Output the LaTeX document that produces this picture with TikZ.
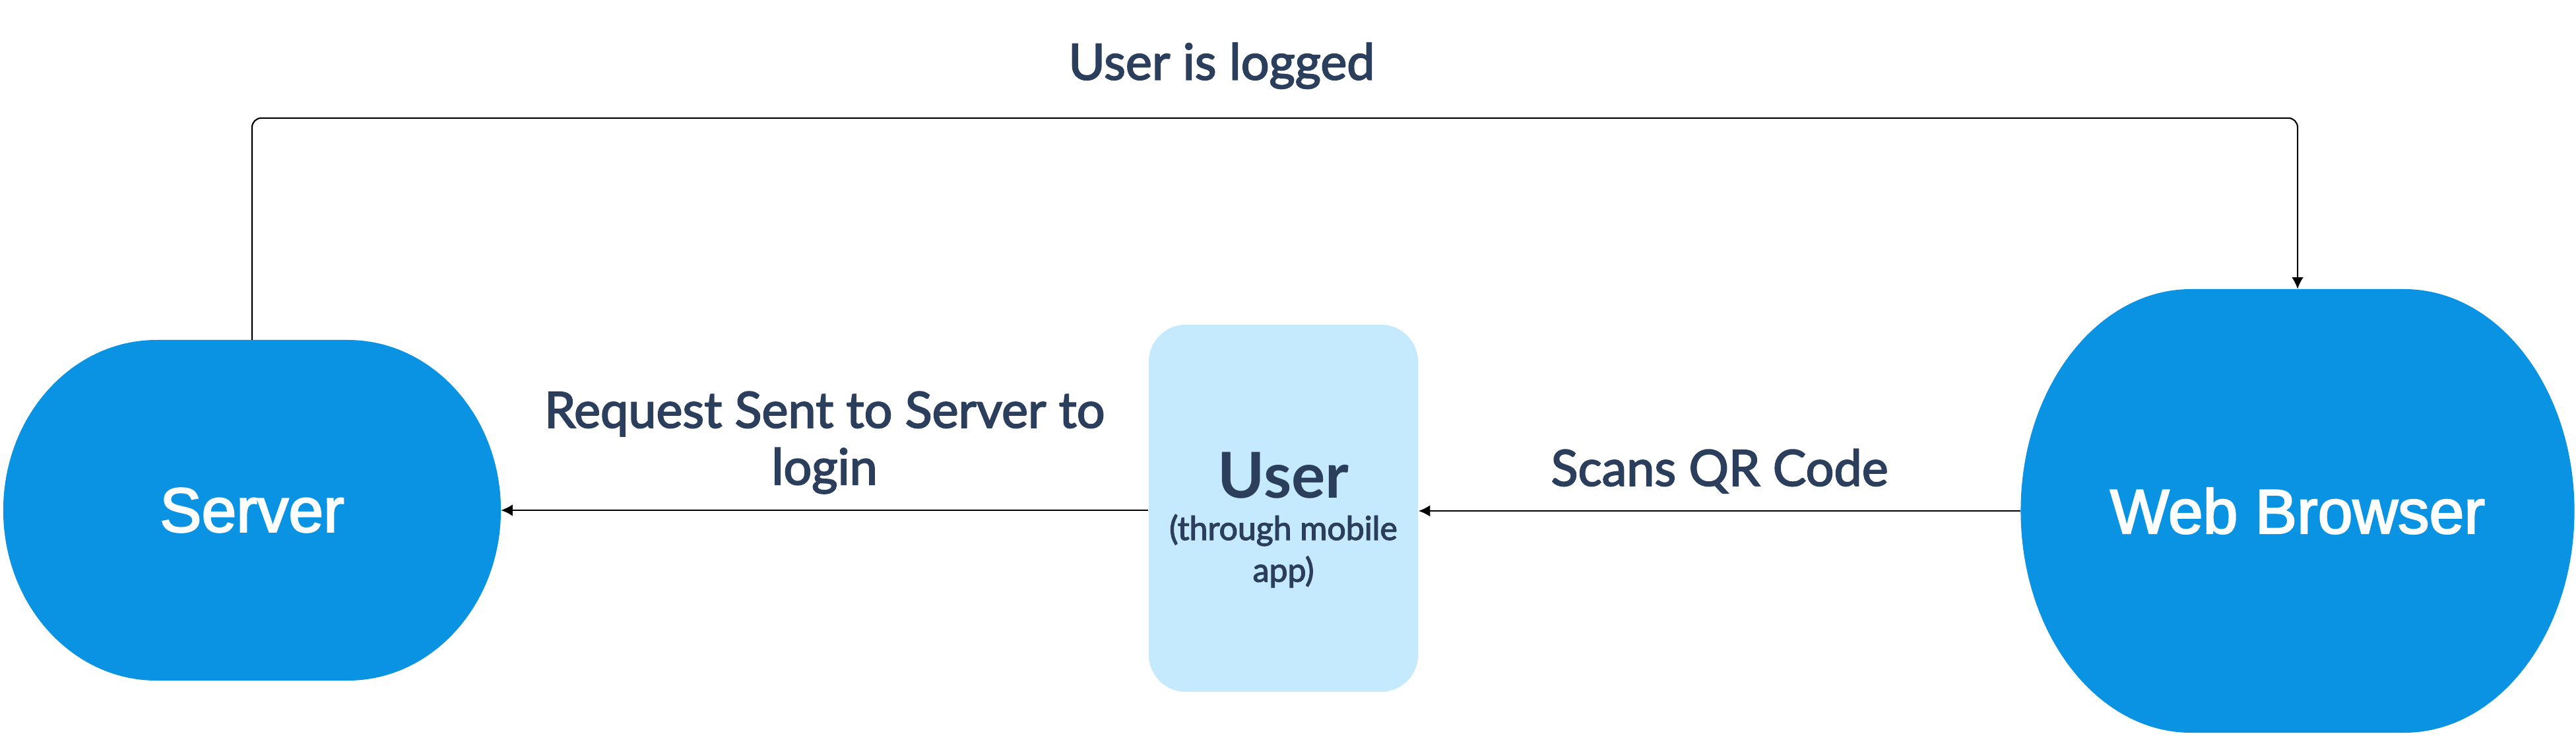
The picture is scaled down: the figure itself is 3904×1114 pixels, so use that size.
\documentclass[tikz,border=0pt]{standalone}
\usepackage{fontspec}
\setmainfont{Lato}[UprightFeatures={FakeBold=2.5}]
\newfontfamily\helv{Liberation Sans}[FakeBold=2.5]
\usetikzlibrary{arrows.meta,backgrounds}

\definecolor{hubblue}{HTML}{0A93E3}
\definecolor{userblue}{HTML}{C5E9FD}
\definecolor{inkblue}{HTML}{2B3F5C}

\begin{document}
\begin{tikzpicture}[
		x=0.01cm, y=0.01cm,
		hub/.style={rectangle, inner sep=0pt, outer sep=0pt, text=white, font=\helv\fontsize{27}{32}\selectfont},
		actor/.style={rectangle, rounded corners=16pt, fill=userblue, inner sep=0pt,
				minimum width=4.08cm, minimum height=5.56cm},
		actortext/.style={text=inkblue, align=center, font=\fontsize{14.2}{18}\selectfont},
		flow/.style={draw=black, line width=0.6pt, -{Latex[length=5pt,width=5pt]}},
		msg/.style={text=inkblue, align=center, font=\fontsize{21.5}{24.5}\selectfont}
	]
	\useasboundingbox (0,0) rectangle (3904,1114);

	\node[hub, minimum width=7.54cm, minimum height=5.16cm] (server) at (382,341) {Server};
	\node[hub, minimum width=8.39cm, minimum height=6.72cm] (browser) at (3482,340) {Web Browser};
	\node[actor] (user) at (1945,344) {};
	\node[actortext] (usertext) at ([yshift=-5pt]user.center) {{\fontsize{27.3}{32}\selectfont\bfseries User}\\(through mobile\\app)};

	% pill shaped hubs: two half ellipses joined by a box
	\begin{scope}[on background layer]
		\fill[hubblue] ([xshift=2.32cm]server.west) ellipse[x radius=232, y radius=258]
		([xshift=-2.32cm]server.east) ellipse[x radius=232, y radius=258]
		([xshift=2.32cm]server.north west) rectangle ([xshift=-2.32cm]server.south east);
		\fill[hubblue] ([xshift=2.58cm]browser.west) ellipse[x radius=258, y radius=336]
		([xshift=-2.58cm]browser.east) ellipse[x radius=258, y radius=336]
		([xshift=2.58cm]browser.north west) rectangle ([xshift=-2.58cm]browser.south east);
	\end{scope}

	\draw[flow] (browser.west) -- node[msg, above=4pt] (scan) {Scans QR Code} (user.east |- browser.west);
	\draw[flow] (user.west |- server.east) -- node[msg, above=3.5pt] (request) {Request Sent to Server to\\login} (server.east);
	\draw[flow, rounded corners=4pt] (server.north) -- ++(0,336) -| node[msg, above=9pt, pos=0.237] (logged) {User is logged} (browser.north);
\end{tikzpicture}
\end{document}
